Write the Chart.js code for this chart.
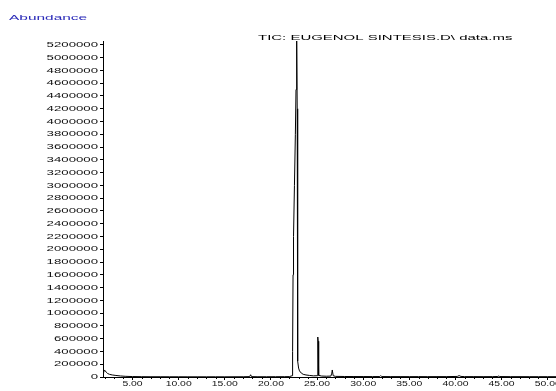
<!DOCTYPE html>
<html>
<head>
<meta charset="utf-8">
<title>TIC: EUGENOL SINTESIS</title>
<script src="https://cdn.jsdelivr.net/npm/chart.js@4.4.1/dist/chart.umd.min.js"></script>
<style>
  html, body { margin: 0; padding: 0; background: #fff; overflow: hidden; }
  #wrap { width: 556px; height: 391px; overflow: hidden; }
</style>
</head>
<body>
<div id="wrap"><canvas id="ticChart" width="580" height="391"></canvas></div>
<script>
// Retention time (min) and abundance
const retentionTimes = [
    1.80, 1.85, 1.95, 2.05, 2.15, 2.30, 2.50, 2.80, 3.20, 3.70, 4.20, 5.00,
    6.00, 7.00, 8.00, 9.00, 10.00, 11.00, 12.00, 13.00, 14.00, 15.00, 16.00,
    17.00, 17.70, 17.80, 17.90, 18.50, 19.50, 20.50, 21.50, 22.00,
    22.30, 22.35, 22.40, 22.45, 22.55, 22.65, 22.72, 22.78, 22.81, 22.85, 22.88, 22.92,
    23.00, 23.10, 23.30, 23.50, 23.80, 24.20, 24.60,
    25.00, 25.06, 25.10, 25.12, 25.15, 25.20, 25.50, 26.00,
    26.50, 26.60, 26.65, 26.75, 27.00, 28.00, 29.00, 30.00, 31.00,
    31.80, 31.90, 32.00, 33.00, 34.00, 35.00, 36.00, 37.00, 38.00, 39.00,
    40.20, 40.40, 40.60, 41.00, 42.00, 43.00, 44.00, 44.60, 44.70, 44.80,
    46.00, 47.00, 48.00, 49.00, 50.00, 50.90
];
const abundance = [
    30000, 60000, 110000, 95000, 75000, 55000, 42000, 32000, 24000, 16000, 11000, 7000,
    5000, 4000, 4000, 3500, 3500, 3000, 3000, 3000, 3500, 3000, 3500,
    4000, 6000, 35000, 6000, 4000, 4000, 4500, 5000, 6000,
    20000, 400000, 1600000, 2200000, 3000000, 3800000, 4500000, 5100000, 5260000, 4200000, 1200000, 250000,
    140000, 95000, 60000, 42000, 32000, 24000, 18000,
    20000, 200000, 626000, 560000, 200000, 25000, 15000, 12000,
    14000, 60000, 110000, 20000, 10000, 8000, 7000, 7000, 6500,
    7000, 22000, 7000, 6000, 6000, 5500, 6000, 5500, 6000, 6000,
    9000, 22000, 9000, 6000, 6000, 5500, 6000, 8000, 16000, 7000,
    5500, 5500, 5000, 5000, 5000, 5000
];

// Axis ticks
const xTickValues = [5, 10, 15, 20, 25, 30, 35, 40, 45, 50];
const yTickValues = [
    0, 200000, 400000, 600000, 800000, 1000000, 1200000, 1400000, 1600000,
    1800000, 2000000, 2200000, 2400000, 2600000, 2800000, 3000000, 3200000,
    3400000, 3600000, 3800000, 4000000, 4200000, 4400000, 4600000, 4800000,
    5000000, 5200000
];

const yAxisLabel = 'Abundance';
const chartTitle = 'TIC: EUGENOL SINTESIS.D\\ data.ms';

// the original uses a very wide, short font, so text is stretched sideways
function wideText(ctx, text, x, y, stretch, align) {
    ctx.save();
    ctx.translate(x, y);
    ctx.scale(stretch, 1);
    ctx.textAlign = align;
    ctx.fillText(text, 0, 0);
    ctx.restore();
}

// Draws tick labels, header texts and the minor ticks on the time axis
const decorPlugin = {
    id: 'decor',
    afterDraw(chart) {
        const ctx = chart.ctx;
        const xScale = chart.scales.x;
        const yScale = chart.scales.y;
        const area = chart.chartArea;

        ctx.save();
        ctx.strokeStyle = '#000';
        ctx.lineWidth = 1;
        ctx.beginPath();
        for (let t = 2; t <= 50; t++) {
            if (t % 5 === 0) continue;
            const px = Math.round(xScale.getPixelForValue(t)) + 0.5;
            ctx.moveTo(px, area.bottom);
            ctx.lineTo(px, area.bottom + 2);
        }
        ctx.stroke();

        ctx.fillStyle = '#111';
        ctx.font = '8px "Liberation Sans"';
        ctx.textBaseline = 'middle';
        yTickValues.forEach(v => {
            wideText(ctx, String(v), 98, yScale.getPixelForValue(v), 1.65, 'right');
        });
        xTickValues.forEach(v => {
            wideText(ctx, v.toFixed(2), xScale.getPixelForValue(v), area.bottom + 7, 1.3, 'center');
        });

        ctx.textBaseline = 'alphabetic';
        ctx.font = '8px "Liberation Sans"';
        ctx.fillStyle = '#2a2ab8';
        wideText(ctx, yAxisLabel, 9, 20, 1.93, 'left');

        ctx.fillStyle = '#000';
        wideText(ctx, chartTitle, 258, 40, 1.87, 'left');
        ctx.restore();
    }
};

document.addEventListener("DOMContentLoaded", () => {
    const ctx = document.getElementById('ticChart');
    const points = retentionTimes.map((t, i) => ({ x: t, y: abundance[i] }));

    new Chart(ctx, {
        type: 'line',
        data: {
            datasets: [{
                data: points,
                borderColor: '#000',
                borderWidth: 1,
                pointRadius: 0,
                tension: 0,
                fill: false
            }]
        },
        options: {
            responsive: false,
            animation: false,
            events: [],
            layout: { padding: { left: 0, top: 41, right: 24, bottom: 0 } },
            plugins: {
                legend: { display: false },
                tooltip: { enabled: false }
            },
            scales: {
                x: {
                    type: 'linear',
                    min: 1.8,
                    max: 50.9,
                    afterBuildTicks: (scale) => {
                        scale.ticks = xTickValues.map(v => ({ value: v }));
                    },
                    afterFit: (scale) => { scale.height = 14; },
                    ticks: {
                        autoSkip: false,
                        maxRotation: 0,
                        padding: 0,
                        color: 'rgba(0,0,0,0)', // labels drawn by decorPlugin
                        font: { family: 'Liberation Sans', size: 8 },
                        callback: (v) => Number(v).toFixed(2)
                    },
                    grid: {
                        drawOnChartArea: false,
                        tickLength: 3,
                        color: '#000'
                    },
                    border: { display: true, color: '#000', width: 1 }
                },
                y: {
                    type: 'linear',
                    min: 0,
                    max: 5260000,
                    afterBuildTicks: (scale) => {
                        scale.ticks = yTickValues.map(v => ({ value: v }));
                    },
                    afterFit: (scale) => { scale.width = 103; },
                    ticks: {
                        autoSkip: false,
                        padding: 1,
                        color: 'rgba(0,0,0,0)', // labels drawn by decorPlugin
                        font: { family: 'Liberation Sans', size: 8 },
                        callback: (v) => String(v)
                    },
                    grid: {
                        drawOnChartArea: false,
                        tickLength: 3,
                        color: '#000'
                    },
                    border: { display: true, color: '#000', width: 1 }
                }
            }
        },
        plugins: [decorPlugin]
    });
});
</script>
</body>
</html>
